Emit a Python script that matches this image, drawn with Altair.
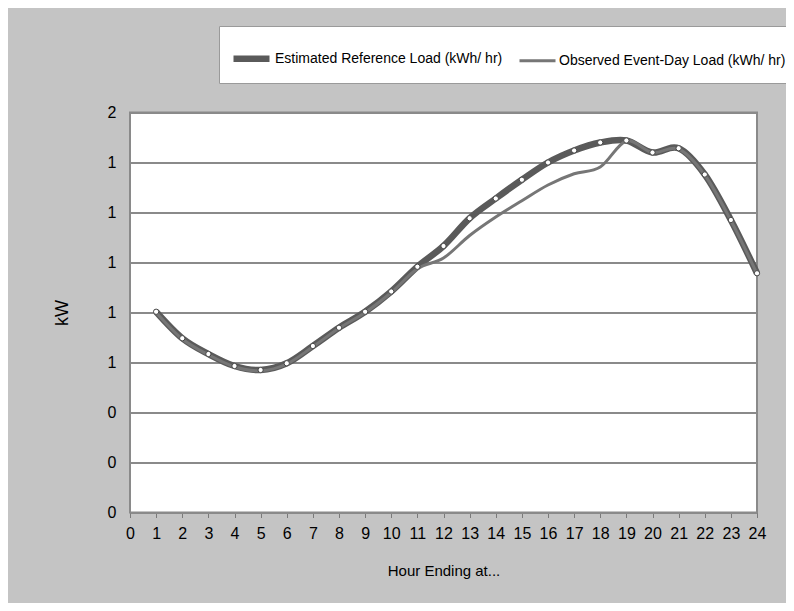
import altair as alt
import pandas as pd

hours = list(range(1, 25))
estimated = [0.803, 0.697, 0.634, 0.586, 0.570, 0.597, 0.666, 0.739, 0.803, 0.884,
             0.983, 1.066, 1.177, 1.256, 1.331, 1.400, 1.448, 1.480, 1.488, 1.440,
             1.457, 1.352, 1.170, 0.957]
observed = [0.800, 0.694, 0.631, 0.583, 0.567, 0.594, 0.663, 0.737, 0.800, 0.880,
            0.975, 1.018, 1.108, 1.182, 1.247, 1.310, 1.355, 1.382, 1.486, 1.440,
            1.454, 1.350, 1.168, 0.955]
series_names = ["Estimated Reference Load (kWh/ hr)", "Observed Event-Day Load (kWh/ hr)"]
series_colors = ["#5a5a5a", "#767676"]
series_widths = [6.5, 3]
x_ticks = list(range(0, 25))
y_ticks = [0, 0.2, 0.4, 0.6, 0.8, 1.0, 1.2, 1.4, 1.6]

df = pd.DataFrame({
    "hour": hours + hours,
    "kw": estimated + observed,
    "series": [series_names[0]] * len(hours) + [series_names[1]] * len(hours),
})

FONT = "Liberation Sans"

x_enc = alt.X("hour:Q",
              scale=alt.Scale(domain=[0, 24], nice=False, zero=False),
              axis=alt.Axis(values=x_ticks, title="Hour Ending at...", grid=False,
                            labelFontSize=16, labelPadding=8, tickSize=5,
                            tickColor="#7a7a7a", domainColor="#8a8a8a", domainWidth=2,
                            titleFontSize=15, titlePadding=22,
                            titleFontWeight="normal", labelFlush=False))
y_enc = alt.Y("kw:Q",
              scale=alt.Scale(domain=[0, 1.6], nice=False),
              axis=alt.Axis(values=y_ticks, format=".0f", title="kW", grid=True,
                            gridColor="#8a8a8a", gridWidth=2, ticks=False,
                            domain=False, labelFontSize=16, labelPadding=14,
                            titleFontSize=18, titlePadding=36,
                            titleFontWeight="normal"))

color_enc = alt.Color("series:N", scale=alt.Scale(domain=series_names, range=series_colors),
                      legend=alt.Legend(title=None))
width_enc = alt.StrokeWidth("series:N", scale=alt.Scale(domain=series_names, range=series_widths),
                            legend=alt.Legend(title=None))

base = alt.Chart(df)

ref_line = base.transform_filter(alt.datum.series == series_names[0]).mark_line(
    interpolate="cardinal").encode(x=x_enc, y=y_enc, color=color_enc, strokeWidth=width_enc)
obs_line = base.transform_filter(alt.datum.series == series_names[1]).mark_line(
    interpolate="cardinal").encode(x=x_enc, y=y_enc, color=color_enc, strokeWidth=width_enc)
ref_pts = base.transform_filter(alt.datum.series == series_names[0]).mark_point(
    shape="circle", filled=True, fill="white", stroke="#444444", strokeWidth=1,
    size=28, opacity=1).encode(x=x_enc, y=y_enc)

chart = alt.layer(ref_line, obs_line, ref_pts).properties(
    width=627, height=400,
    background="#c4c4c4",
    autosize=alt.AutoSizeParams(type="none"),
    padding={"left": 122, "top": 104.5, "right": 29, "bottom": 90.5},
).configure_view(
    fill="white", stroke="#8a8a8a", strokeWidth=2
).configure_axis(
    labelFont=FONT, titleFont=FONT, labelColor="black", titleColor="black"
).configure_legend(
    orient="none", legendX=89, legendY=-86.5, direction="horizontal",
    fillColor="white", strokeColor="#9a9a9a", padding=11,
    symbolType="stroke", symbolSize=1296, labelFont=FONT, labelFontSize=14,
    labelColor="black", columnPadding=10, labelLimit=400, labelOffset=2,
    labelBaseline="middle"
)

chart.save("out.html", embed_options={"renderer": "svg", "actions": False})
